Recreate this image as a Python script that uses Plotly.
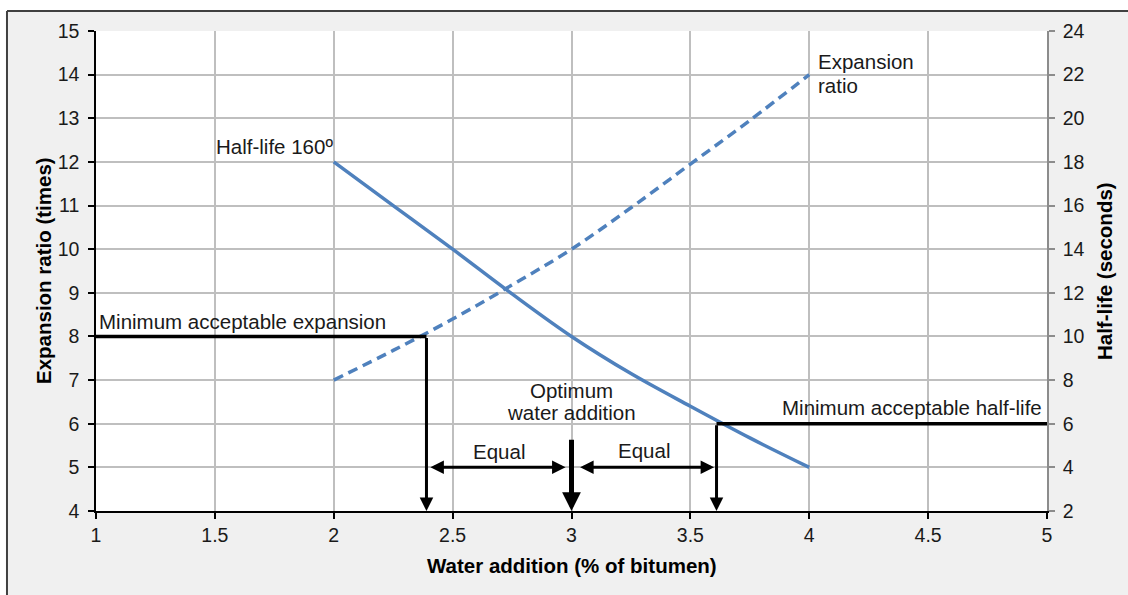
import plotly.graph_objects as go

# Foam test results against water addition
water = [2.0, 2.25, 2.5, 2.75, 3.0, 3.25, 3.5, 3.75, 4.0]
expansion = [7.0, 7.68, 8.4, 9.18, 10.0, 10.95, 11.95, 12.95, 14.0]
half_life = [18.0, 16.0, 14.0, 11.95, 10.0, 8.3, 6.8, 5.35, 4.0]

# Acceptance limits and the resulting water range
min_expansion = 8
min_half_life = 6
water_low = 2.39
water_high = 3.61
water_opt = 3.0
opt_marker_top = 5.67

FONT = "Liberation Sans, Arial, sans-serif"
TXT = "#1a1a1a"
BLUE = "#4f81bd"

fig = go.Figure()

fig.add_trace(go.Scatter(
    x=water, y=expansion, mode="lines", yaxis="y",
    line=dict(color=BLUE, width=3.5, dash="10px,6px", shape="spline"),
    hoverinfo="skip", showlegend=False))
fig.add_trace(go.Scatter(
    x=water, y=half_life, mode="lines", yaxis="y2",
    line=dict(color=BLUE, width=3.5, shape="spline"),
    hoverinfo="skip", showlegend=False))

# Minimum-limit lines
fig.add_trace(go.Scatter(
    x=[1, water_low], y=[min_expansion, min_expansion], mode="lines", yaxis="y",
    line=dict(color="black", width=3.5), hoverinfo="skip", showlegend=False,
    cliponaxis=False))
fig.add_trace(go.Scatter(
    x=[water_high, 5], y=[min_half_life, min_half_life], mode="lines", yaxis="y2",
    line=dict(color="black", width=3.5), hoverinfo="skip", showlegend=False,
    cliponaxis=False))

ann = []


def arrow(x, y, ax, ay, yref="y", width=3, head=2, size=0.9, side="end"):
    ann.append(dict(x=x, y=y, ax=ax, ay=ay, xref="x", yref=yref,
                    axref="x", ayref=yref, text="", showarrow=True,
                    arrowhead=head, arrowsize=size, arrowwidth=width,
                    arrowcolor="black", arrowside=side,
                    startarrowhead=head, startarrowsize=size))


# drops from the limit crossings to the water axis
arrow(water_low, 4, water_low, min_expansion)
arrow(water_high, 2, water_high, min_half_life, yref="y2")
# optimum marker
arrow(water_opt, 4, water_opt, opt_marker_top, width=5, size=0.75)
# equal spacing either side of the optimum
arrow(water_opt - 0.025, 5, water_low + 0.01, 5, side="end+start")
arrow(water_high - 0.01, 5, water_opt + 0.03, 5, side="end+start")


def label(text, x, y, xa="center", ya="middle", yref="y", xs=0, ys=0,
          align="center", size=20.5):
    ann.append(dict(x=x, y=y, xref="x", yref=yref, text=text, showarrow=False,
                    xanchor=xa, yanchor=ya, xshift=xs, yshift=ys, align=align,
                    font=dict(family=FONT, size=size, color=TXT)))


label("Half-life 160º", water[0], half_life[0], xa="right", ya="bottom",
      yref="y2", xs=1, ys=2)
label("Expansion", water[-1], expansion[-1], xa="left", xs=7, ys=13)
label("ratio", water[-1], expansion[-1], xa="left", xs=7, ys=-11)
label("Minimum acceptable expansion", 1, min_expansion, xa="left", ya="bottom",
      xs=1, ys=1)
label("Minimum acceptable half-life", 5, min_half_life, xa="right", ya="bottom",
      yref="y2", xs=-3, ys=3)
label("Optimum", water_opt, opt_marker_top, ys=48)
label("water addition", water_opt, opt_marker_top, ys=26)
label("Equal", (water_low + water_opt) / 2, 5, ya="bottom", ys=2)
label("Equal", (water_high + water_opt) / 2, 5, ya="bottom", ys=3)

# axis titles
title_font = dict(family=FONT, size=20.5, color="black")
ann.append(dict(x=0.5, y=-0.1125, xref="paper", yref="paper", showarrow=False,
                text="<b>Water addition (% of bitumen)</b>", font=title_font,
                xanchor="center", yanchor="middle"))
ann.append(dict(x=-0.0557, y=0.5, xref="paper", yref="paper", showarrow=False,
                text="<b>Expansion ratio (times)</b>", font=title_font,
                textangle=-90, xanchor="center", yanchor="middle"))
ann.append(dict(x=1.06, y=0.5, xref="paper", yref="paper", showarrow=False,
                text="<b>Half-life (seconds)</b>", font=title_font,
                textangle=-90, xanchor="center", yanchor="middle"))

# frame around the chart
shapes = [
    dict(type="rect", xref="paper", yref="paper", x0=-0.2, x1=1.2,
         y0=1.0417, y1=1.2, fillcolor="white", line_width=0, layer="above"),
    dict(type="rect", xref="paper", yref="paper", x0=-0.2, x1=-0.0936,
         y0=-0.3, y1=1.2, fillcolor="white", line_width=0, layer="above"),
    dict(type="line", xref="paper", yref="paper", x0=-0.0936, x1=1.2,
         y0=1.0417, y1=1.0417, line=dict(color="#404040", width=2)),
    dict(type="line", xref="paper", yref="paper", x0=-0.0936, x1=-0.0936,
         y0=-0.3, y1=1.0417, line=dict(color="#404040", width=2)),
]

tickfont = dict(family=FONT, size=19.5, color=TXT)
fig.update_layout(
    width=1128, height=595, autosize=False,
    margin=dict(l=96, r=81, t=31, b=84),
    paper_bgcolor="#f0f0f0", plot_bgcolor="white",
    showlegend=False,
    xaxis=dict(range=[1, 5], dtick=0.5, tick0=1, showgrid=True,
               gridcolor="#bfbfbf", gridwidth=1.5, showline=True,
               linecolor="black", linewidth=1.5, ticks="outside",
               ticklen=6, tickcolor="black", tickwidth=1.5,
               tickfont=tickfont, zeroline=False),
    yaxis=dict(range=[4, 15], dtick=1, showgrid=True, gridcolor="#bfbfbf",
               gridwidth=1.5, showline=True, linecolor="black", linewidth=1.5,
               ticks="outside", ticklen=6, tickcolor="black", tickwidth=1.5,
               tickfont=tickfont, zeroline=False, ticklabelstandoff=5),
    yaxis2=dict(range=[2, 24], dtick=2, overlaying="y", side="right",
                showgrid=False, showline=True, linecolor="#8c8c8c",
                linewidth=1.5, ticks="outside", ticklen=6,
                tickcolor="#8c8c8c", tickwidth=1.5, tickfont=tickfont,
                zeroline=False, ticklabelstandoff=4),
    annotations=ann,
    shapes=shapes,
)

fig.write_html("out.html")
